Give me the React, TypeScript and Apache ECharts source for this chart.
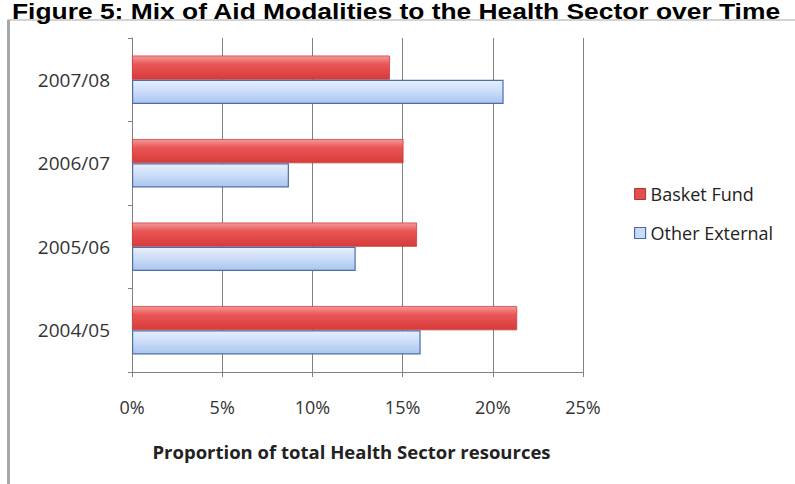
import React, { useEffect, useRef } from "react";
import * as echarts from "echarts";

const categories = ["2004/05", "2005/06", "2006/07", "2007/08"];
const basketFund = [21.35, 15.8, 15.05, 14.3];
const otherExternal = [16.0, 12.4, 8.7, 20.6];
const xTicks = [0, 5, 10, 15, 20, 25];

const FONT = "'Open Sans', 'Noto Sans', sans-serif";

export default function App() {
  const ref = useRef<HTMLDivElement>(null);
  useEffect(() => {
    if (!ref.current) return;
    const chart = echarts.init(ref.current, undefined, { renderer: "svg" });
    const redFill = new echarts.graphic.LinearGradient(0, 0, 0, 1, [
      { offset: 0, color: "#f49a9a" },
      { offset: 0.35, color: "#ea5656" },
      { offset: 1, color: "#d83a3a" },
    ]);
    const blueFill = new echarts.graphic.LinearGradient(0, 0, 0, 1, [
      { offset: 0, color: "#e6effd" },
      { offset: 0.5, color: "#cadcf8" },
      { offset: 1, color: "#aac5ef" },
    ]);
    chart.setOption({
      animation: false,
      backgroundColor: "#ffffff",
      graphic: [
        {
          type: "rect",
          shape: { x: 8, y: 20, width: 800, height: 480 },
          style: { fill: "none", stroke: "#c4c4c4", lineWidth: 1.5 },
          z: -1,
        },
        {
          type: "line",
          shape: { x1: 8.5, y1: 20, x2: 8.5, y2: 484 },
          style: { stroke: "#a8a8a8", lineWidth: 3 },
          z: -1,
        },
        {
          type: "text",
          x: 12,
          y: 0,
          scaleX: 1.2,
          style: {
            text: "Figure 5: Mix of Aid Modalities to the Health Sector over Time",
            font: "bold 22px 'Liberation Sans', Arial, sans-serif",
            fill: "#000000",
            verticalAlign: "top",
          },
        },
      ],
      legend: {
        data: [
          { name: "Basket Fund", itemStyle: { color: "#e05050", borderColor: "#b83030", borderWidth: 1 } },
          { name: "Other External", itemStyle: { color: "#c8dbf7", borderColor: "#4a6aa8", borderWidth: 1.2 } },
        ],
        orient: "vertical",
        left: 629,
        top: 180,
        itemWidth: 11,
        itemHeight: 11,
        itemGap: 21,
        icon: "rect",
        textStyle: { fontFamily: FONT, fontSize: 18, color: "#222" },
      },
      grid: { left: 132, right: 212, top: 38, bottom: 112, containLabel: false },
      xAxis: {
        type: "value",
        min: 0,
        max: 25,
        interval: 5,
        axisLine: { show: true, lineStyle: { color: "#808080", width: 1 } },
        axisTick: { show: true, length: 5, lineStyle: { color: "#808080" } },
        splitLine: { show: true, lineStyle: { color: "#808080", width: 1 } },
        axisLabel: {
          formatter: (v: number) => (xTicks.includes(v) ? v + "%" : ""),
          fontFamily: FONT,
          fontSize: 18,
          color: "#333",
          margin: 26,
        },
        name: "Proportion of total Health Sector resources",
        nameLocation: "middle",
        nameGap: 70,
        nameTextStyle: { fontFamily: FONT, fontSize: 18.5, fontWeight: "bold", color: "#222", padding: [0, 12, 0, 0] },
      },
      yAxis: {
        type: "category",
        data: categories,
        axisLine: { show: true, lineStyle: { color: "#808080", width: 1 } },
        axisTick: { show: true, length: 4, lineStyle: { color: "#808080" } },
        axisLabel: { fontFamily: FONT, fontSize: 19, color: "#333", margin: 22 },
      },
      series: [
        {
          name: "Basket Fund",
          type: "bar",
          data: basketFund,
          barGap: "0%",
          barCategoryGap: "42%",
          itemStyle: { color: redFill, borderColor: "#c84040", borderWidth: 0.8 },
        },
        {
          name: "Other External",
          type: "bar",
          data: otherExternal,
          barGap: "0%",
          barCategoryGap: "42%",
          itemStyle: { color: blueFill, borderColor: "#4f6ea8", borderWidth: 1.2 },
        },
      ],
    });
    return () => chart.dispose();
  }, []);
  return <div ref={ref} style={{ width: 795, height: 484, position: "absolute", left: 0, top: 0 }} />;
}
